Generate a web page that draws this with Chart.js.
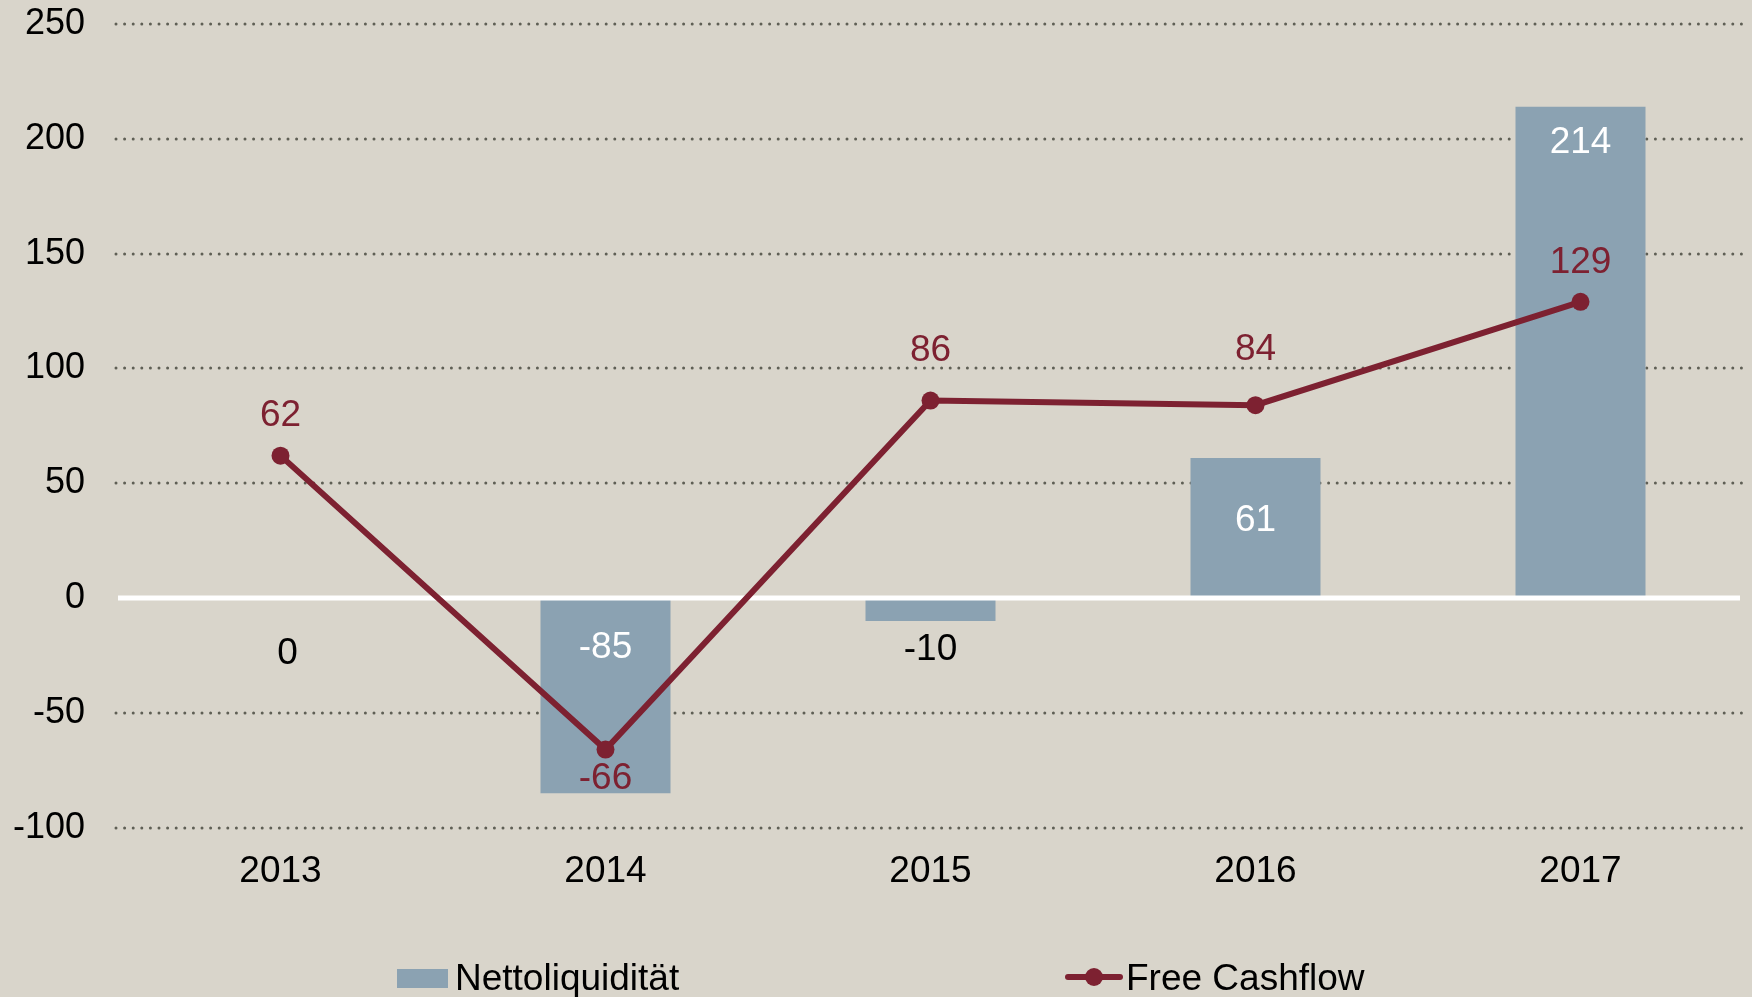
<!DOCTYPE html>
<html>
<head>
<meta charset="utf-8">
<script src="https://cdn.jsdelivr.net/npm/chart.js@4.4.0/dist/chart.umd.min.js"></script>
<style>
    html, body { margin: 0; padding: 0; background: #d9d5cb; }
    #wrap { width: 1752px; height: 997px; position: relative; }
</style>
</head>
<body>
<div id="wrap"><canvas id="cashChart"></canvas></div>
<script>
// chart values
const years = ['2013', '2014', '2015', '2016', '2017'];
const nettoliquiditaet = [0, -85, -10, 61, 214];
const freeCashflow = [62, -66, 86, 84, 129];
const yMin = -100, yMax = 250, yStep = 50;

const FONT = "'Liberation Sans', Arial, sans-serif";
const BAR_COLOR = '#8ba2b2';
const LINE_COLOR = '#7d2131';

// dotted grid lines + white zero line
const gridPlugin = {
    id: 'gridPlugin',
    beforeDatasetsDraw: function (chart) {
        var ctx = chart.ctx, y = chart.scales.y, area = chart.chartArea;
        ctx.save();
        ctx.strokeStyle = '#5f5f55';
        ctx.lineWidth = 3;
        ctx.lineCap = 'round';
        ctx.setLineDash([0, 8.6]);
        y.ticks.forEach(function (t) {
            if (t.value === 0) return;
            var py = Math.round(y.getPixelForValue(t.value));
            ctx.beginPath();
            ctx.moveTo(116, py);
            ctx.lineTo(area.right + 1, py);
            ctx.stroke();
        });
        ctx.restore();
    },
    afterDatasetDraw: function (chart, args) {
        if (args.meta.type !== 'bar') return;
        var ctx = chart.ctx, area = chart.chartArea;
        var py = chart.scales.y.getPixelForValue(0);
        ctx.save();
        ctx.strokeStyle = '#ffffff';
        ctx.lineWidth = 5;
        ctx.beginPath();
        ctx.moveTo(118, py);
        ctx.lineTo(area.right - 3, py);
        ctx.stroke();
        ctx.restore();
    }
};

// value labels
const labelPlugin = {
    id: 'labelPlugin',
    afterDatasetsDraw: function (chart) {
        var ctx = chart.ctx;
        var zero = chart.scales.y.getPixelForValue(0);
        ctx.save();
        ctx.font = '37px ' + FONT;
        ctx.textAlign = 'center';
        ctx.textBaseline = 'middle';

        var barMeta = chart.getDatasetMeta(0);
        barMeta.data.forEach(function (bar, i) {
            var v = nettoliquiditaet[i];
            var y, color;
            if (v === 0) {
                y = zero + 56;
                color = '#000000';
            } else if (v < 0) {
                y = zero + (v < -30 ? 50 : 52);
                color = (v < -30) ? '#ffffff' : '#000000';
            } else {
                var h = zero - bar.y;
                y = h > 300 ? bar.y + 36 : bar.y + h / 2 - 7;
                color = '#ffffff';
            }
            ctx.fillStyle = color;
            ctx.fillText(String(v), bar.x + (v === 0 ? 7 : 0), y);
        });

        var lineMeta = chart.getDatasetMeta(1);
        var above = [40, 0, 50, 55, 39];
        lineMeta.data.forEach(function (pt, i) {
            var v = freeCashflow[i];
            ctx.fillStyle = LINE_COLOR;
            var y = v < 0 ? pt.y + 29 : pt.y - above[i];
            ctx.fillText(String(v), pt.x, y);
        });
        ctx.restore();
    }
};

// legend at the bottom
const legendPlugin = {
    id: 'legendPlugin',
    afterDraw: function (chart) {
        var ctx = chart.ctx;
        ctx.save();
        ctx.font = '37px ' + FONT;
        ctx.textBaseline = 'alphabetic';
        ctx.textAlign = 'left';
        ctx.fillStyle = BAR_COLOR;
        ctx.fillRect(397, 969, 51, 19);
        ctx.fillStyle = '#000000';
        ctx.fillText(chart.data.datasets[0].label, 455, 990);

        ctx.strokeStyle = LINE_COLOR;
        ctx.lineWidth = 6;
        ctx.lineCap = 'round';
        ctx.beginPath();
        ctx.moveTo(1068, 977);
        ctx.lineTo(1120, 977);
        ctx.stroke();
        ctx.fillStyle = LINE_COLOR;
        ctx.beginPath();
        ctx.arc(1094, 977, 9, 0, Math.PI * 2);
        ctx.fill();
        ctx.fillStyle = '#000000';
        ctx.fillText(chart.data.datasets[1].label, 1126, 990);
        ctx.restore();
    }
};

let cashCanvas = document.getElementById('cashChart');
let cashChart = new Chart(cashCanvas, {
    type: 'bar',
    data: {
        labels: years,
        datasets: [{
            type: 'bar',
            label: 'Nettoliquidität',
            data: nettoliquiditaet,
            backgroundColor: BAR_COLOR,
            borderWidth: 0,
            barPercentage: 0.4,
            categoryPercentage: 1.0,
            order: 1
        }, {
            type: 'line',
            label: 'Free Cashflow',
            data: freeCashflow,
            borderColor: LINE_COLOR,
            backgroundColor: LINE_COLOR,
            borderWidth: 6,
            pointRadius: 9,
            pointBackgroundColor: LINE_COLOR,
            pointBorderWidth: 0,
            tension: 0,
            order: 0
        }]
    },
    options: {
        responsive: true,
        maintainAspectRatio: false,
        animation: false,
        layout: {
            padding: { top: 24, right: 1, bottom: 81, left: 0 }
        },
        plugins: {
            legend: { display: false },
            tooltip: { enabled: false }
        },
        scales: {
            x: {
                grid: { display: false, drawTicks: false },
                border: { display: false },
                ticks: {
                    color: '#000000',
                    font: { family: FONT, size: 37 },
                    padding: 22
                }
            },
            y: {
                min: yMin,
                max: yMax,
                grid: { display: false, drawTicks: false },
                border: { display: false },
                ticks: {
                    stepSize: yStep,
                    color: '#000000',
                    font: { family: FONT, size: 36 },
                    padding: 33
                },
                afterFit: function (scale) {
                    scale.width = 118;
                    scale.paddingTop = 0;
                    scale.paddingBottom = 0;
                }
            }
        }
    },
    plugins: [gridPlugin, labelPlugin, legendPlugin]
});
</script>
</body>
</html>
